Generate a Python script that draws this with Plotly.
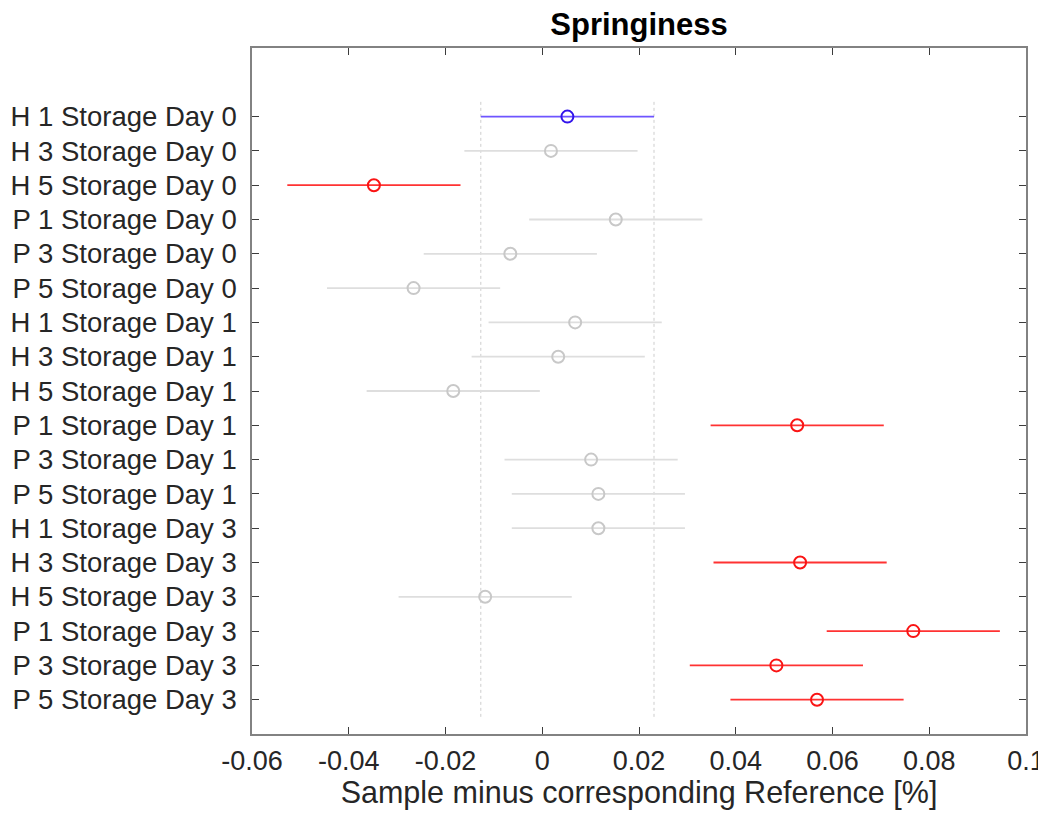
import plotly.graph_objects as go

labels = [
    "H 1 Storage Day 0", "H 3 Storage Day 0", "H 5 Storage Day 0",
    "P 1 Storage Day 0", "P 3 Storage Day 0", "P 5 Storage Day 0",
    "H 1 Storage Day 1", "H 3 Storage Day 1", "H 5 Storage Day 1",
    "P 1 Storage Day 1", "P 3 Storage Day 1", "P 5 Storage Day 1",
    "H 1 Storage Day 3", "H 3 Storage Day 3", "H 5 Storage Day 3",
    "P 1 Storage Day 3", "P 3 Storage Day 3", "P 5 Storage Day 3",
]
means = [0.0052, 0.0018, -0.0348, 0.0152, -0.0066, -0.0266,
         0.0068, 0.0033, -0.0184, 0.0527, 0.0101, 0.0116,
         0.0116, 0.0533, -0.0118, 0.0767, 0.0484, 0.0568]
half_width = 0.0179
# group status: 'sel' = selected group, 'sig' = significantly different, 'ns' = not
status = ["sel", "ns", "sig", "ns", "ns", "ns",
          "ns", "ns", "ns", "sig", "ns", "ns",
          "ns", "sig", "ns", "sig", "sig", "sig"]
x_ticks = [-0.06, -0.04, -0.02, 0, 0.02, 0.04, 0.06, 0.08, 0.1]
x_tick_text = ["-0.06", "-0.04", "-0.02", "0", "0.02", "0.04", "0.06", "0.08", "0.1"]

n = len(labels)
ypos = [n - i for i in range(n)]

colors = {"sel": "rgb(50,20,235)", "sig": "rgb(250,20,20)", "ns": "rgb(200,200,200)"}
line_colors = {"sel": "rgb(110,85,255)", "sig": "rgb(255,50,50)", "ns": "rgb(222,222,222)"}

fig = go.Figure()

sel_idx = status.index("sel")
lo = means[sel_idx] - half_width
hi = means[sel_idx] + half_width
for xv in (lo, hi):
    fig.add_trace(go.Scatter(
        x=[xv, xv], y=[0.5, n + 0.5], mode="lines",
        line=dict(color="rgb(205,205,205)", width=1, dash="dot"),
        hoverinfo="skip", showlegend=False))

for st in ("ns", "sig", "sel"):
    xs = [means[i] for i in range(n) if status[i] == st]
    ys = [ypos[i] for i in range(n) if status[i] == st]
    fig.add_trace(go.Scatter(
        x=xs, y=ys, mode="markers",
        marker=dict(symbol="circle-open", size=12, color=colors[st],
                    line=dict(width=2, color=colors[st])),
        error_x=dict(type="constant", value=half_width, color=line_colors[st],
                     thickness=1.8, width=0),
        showlegend=False))

font_family = "Liberation Sans, Arial, Helvetica, sans-serif"
W, H = 1038, 802
L, R = 244, 20
fig.update_layout(
    width=W, height=H,
    margin=dict(l=L, r=R, t=40, b=76, autoexpand=False),
    paper_bgcolor="white", plot_bgcolor="white",
    title=dict(text="<b>Springiness</b>", x=(L + W - R) / 2 / W, xanchor="center",
               y=1 - 16 / H, yanchor="middle",
               font=dict(family=font_family, size=31, color="black")),
    font=dict(family=font_family, size=28, color="rgb(38,38,38)"),
    xaxis=dict(
        range=[-0.06, 0.1], tickvals=x_ticks, ticktext=x_tick_text,
        showgrid=False, zeroline=False, showline=True, mirror="ticks",
        linecolor="rgb(130,130,130)", linewidth=1.5,
        ticks="inside", ticklen=7, tickcolor="rgb(60,60,60)", tickwidth=1,
        tickfont=dict(size=27, color="rgb(38,38,38)"),
        ticklabelstandoff=2, automargin=False,
        title=dict(text="Sample minus corresponding Reference [%]",
                   font=dict(size=30.5, color="rgb(38,38,38)"), standoff=8),
    ),
    yaxis=dict(
        range=[0, n + 2], tickvals=ypos, ticktext=labels,
        showgrid=False, zeroline=False, showline=True, mirror="ticks",
        linecolor="rgb(130,130,130)", linewidth=1.5,
        ticks="inside", ticklen=7, tickcolor="rgb(60,60,60)", tickwidth=1,
        tickfont=dict(size=27.5, color="rgb(38,38,38)"),
        ticklabelstandoff=8, automargin=False,
    ),
)

fig.write_html("out.html")
